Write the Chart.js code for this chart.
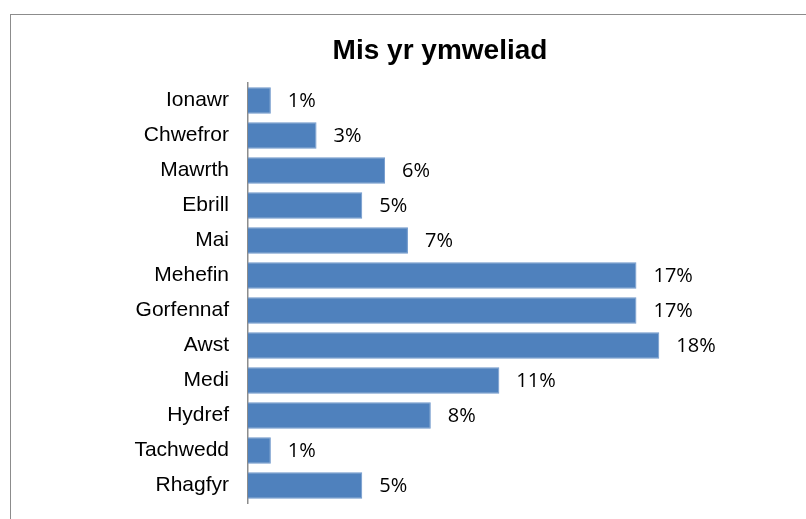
<!DOCTYPE html>
<html>
<head>
<meta charset="utf-8">
<script src="https://cdn.jsdelivr.net/npm/chart.js@4"></script>
<style>
  html, body { margin: 0; padding: 0; background: #fff; overflow: hidden; }
  #wrap { position: relative; width: 806px; height: 519px; }
  #frame {
    position: absolute; left: 10px; top: 14px; width: 900px; height: 600px;
    border: 1.5px solid #8c8c8c; box-sizing: border-box;
  }
  #chart { position: absolute; left: 0; top: 0; }
</style>
</head>
<body>
<div id="wrap">
  <div id="frame"></div>
  <canvas id="chart" width="806" height="519"></canvas>
</div>
<script>
const months = ["Ionawr", "Chwefror", "Mawrth", "Ebrill", "Mai", "Mehefin",
  "Gorfennaf", "Awst", "Medi", "Hydref", "Tachwedd", "Rhagfyr"];
const visitShare = [1, 3, 6, 5, 7, 17, 17, 18, 11, 8, 1, 5];
const chartTitle = "Mis yr ymweliad";

// value labels at the end of each bar + title centred over the frame
const extras = {
  id: "extras",
  afterDatasetsDraw(chart) {
    const ctx = chart.ctx;
    const meta = chart.getDatasetMeta(0);
    ctx.save();
    ctx.font = "20px 'Open Sans'";
    ctx.fillStyle = "#000";
    ctx.textAlign = "left";
    ctx.textBaseline = "middle";
    meta.data.forEach((bar, i) => {
      ctx.fillText(visitShare[i] + "%", bar.x + 17, bar.y + 1);
    });

    ctx.font = "bold 28px 'Liberation Sans'";
    ctx.textAlign = "center";
    ctx.textBaseline = "alphabetic";
    ctx.fillText(chartTitle, 440, 59);
    ctx.restore();
  }
};

new Chart(document.getElementById("chart"), {
  type: "bar",
  data: {
    labels: months,
    datasets: [{
      data: visitShare,
      backgroundColor: "#4F81BD",
      borderColor: "#6E97CB",
      borderWidth: 1,
      barPercentage: 0.76,
      categoryPercentage: 1
    }]
  },
  options: {
    indexAxis: "y",
    responsive: false,
    animation: false,
    layout: { padding: { left: 20, right: 101, top: 83, bottom: 16 } },
    plugins: {
      legend: { display: false },
      tooltip: { enabled: false },
      title: { display: false }
    },
    scales: {
      x: { display: false, min: 0, max: 20 },
      y: {
        afterFit(scale) {
          scale.width = 228;
          scale.paddingTop = 0;
          scale.paddingBottom = 0;
        },
        grid: { display: false, drawTicks: false },
        border: { display: true, color: "#8c8c8c", width: 1.5 },
        ticks: {
          padding: 19,
          color: "#000",
          font: { family: "'Liberation Sans', Arial", size: 21 }
        }
      }
    }
  },
  plugins: [extras]
});
</script>
</body>
</html>
